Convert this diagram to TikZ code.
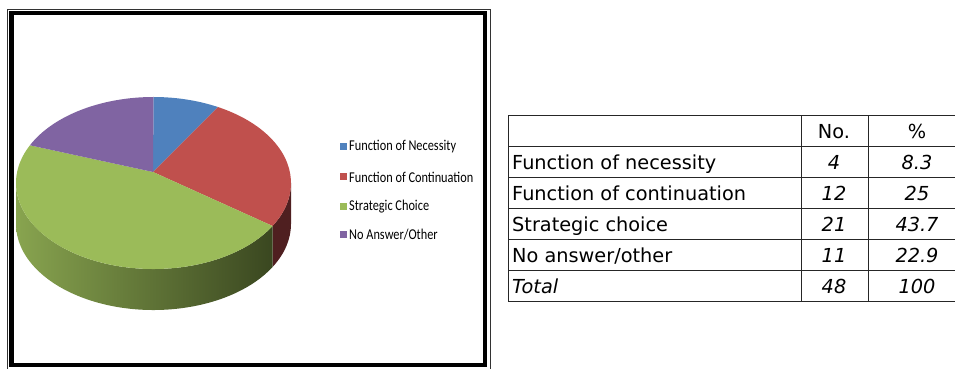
\documentclass[tikz,border=0pt]{standalone}
\usepackage{fontspec}
\usetikzlibrary{calc}
\newfontfamily\legfont[FakeStretch=0.82]{Carlito}
\newfontfamily\tabfont{DejaVu Sans}
\definecolor{necblue}{HTML}{4F81BD}
\definecolor{conred}{HTML}{C0504D}
\definecolor{strgreen}{HTML}{9BBB59}
\definecolor{othpurple}{HTML}{8064A2}
\definecolor{redside}{HTML}{4F1F20}
\definecolor{greenlight}{HTML}{88A44F}
\definecolor{greendark}{HTML}{3A4720}

\begin{document}
\begin{tikzpicture}[x=1pt, y=1pt,
            key/.style = {minimum size=7pt, inner sep=0pt},
            keytext/.style = {anchor=west, inner sep=0pt, font=\legfont\fontsize{15}{16}\selectfont},
            cell/.style = {anchor=base west, inner sep=0pt, font=\tabfont\fontsize{19.3}{20}\selectfont},
            num/.style = {anchor=base, inner sep=0pt, font=\tabfont\itshape\fontsize{19.3}{20}\selectfont},
            rule/.style = {draw=black!85, line width=0.9pt},
        ]
            \useasboundingbox (0,0) rectangle (955,369);

            % Chart frame: thin outer line and thick inner line
            \draw[black!80, line width=1pt] (7.5,-5) -- (7.5,359.5) -- (490.5,359.5) -- (490.5,-5);
            \draw[line width=4.5pt] (11.5,4) rectangle (485,356);

            % Pie geometry
            \coordinate (C) at (153.5,186);
            \coordinate (A) at (153,197);

            % Side of the pie
            \fill[redside] ([shift={(-30:137.5 and 86)}]C) arc[start angle=-30, end angle=0, x radius=137.5, y radius=86]
                -- ++(0,-41) arc[start angle=0, end angle=-30, x radius=137.5, y radius=86] -- cycle;
            \shade[left color=greenlight, right color=greendark] ([shift={(180:137.5 and 86)}]C)
                arc[start angle=180, end angle=330, x radius=137.5, y radius=86]
                -- ++(0,-41) arc[start angle=330, end angle=180, x radius=137.5, y radius=86] -- cycle;

            % Top of the pie
            \fill[necblue] (A) -- ([shift={(90:137.5 and 86)}]C) arc[start angle=90, end angle=62, x radius=137.5, y radius=86] -- cycle;
            \fill[conred] (A) -- ([shift={(62:137.5 and 86)}]C) arc[start angle=62, end angle=-30, x radius=137.5, y radius=86] -- cycle;
            \fill[strgreen] (A) -- ([shift={(-30:137.5 and 86)}]C) arc[start angle=-30, end angle=-206, x radius=137.5, y radius=86] -- cycle;
            \fill[othpurple] (A) -- ([shift={(154:137.5 and 86)}]C) arc[start angle=154, end angle=90, x radius=137.5, y radius=86] -- cycle;

            % Legend
            \node[key, fill=necblue] (k1) at (343.5,222) {};
            \node[key, fill=conred] (k2) at (343.5,192) {};
            \node[key, fill=strgreen] (k3) at (343.5,162) {};
            \node[key, fill=othpurple] (k4) at (343.5,134) {};
            \node[keytext] (t1) at (349,222) {Function of Necessity};
            \node[keytext] (t2) at (349,192) {Function of Continuation};
            \node[keytext] (t3) at (349,162) {Strategic Choice};
            \node[keytext] (t4) at (349,134) {No Answer/Other};

            % Table rules
            \foreach \y in {254,223,192,161,130,99,68}
                \draw[rule] (508,\y) -- (955,\y);
            \foreach \x in {508,801,868}
                \draw[rule] (\x,68) -- (\x,254);

            % Table header
            \node[num, font=\tabfont\fontsize{19.3}{20}\selectfont] (hno) at (834,230.5) {No.};
            \node[num, font=\tabfont\fontsize{19.3}{20}\selectfont] (hpc) at (917,230.5) {\%};

            % Table rows
            \node[cell] (r1) at (512,199.5) {Function of necessity};
            \node[num] (n1) at (834,199.5) {4};
            \node[num] (p1) at (917,199.5) {8.3};
            \node[cell] (r2) at (512,168.5) {Function of continuation};
            \node[num] (n2) at (834,168.5) {12};
            \node[num] (p2) at (917,168.5) {25};
            \node[cell] (r3) at (512,137.5) {Strategic choice};
            \node[num] (n3) at (834,137.5) {21};
            \node[num] (p3) at (917,137.5) {43.7};
            \node[cell] (r4) at (512,106.5) {No answer/other};
            \node[num] (n4) at (834,106.5) {11};
            \node[num] (p4) at (917,106.5) {22.9};
            \node[cell, font=\tabfont\itshape\fontsize{19.3}{20}\selectfont] (r5) at (512,75.5) {Total};
            \node[num] (n5) at (834,75.5) {48};
            \node[num] (p5) at (917,75.5) {100};
        \end{tikzpicture}
\end{document}
